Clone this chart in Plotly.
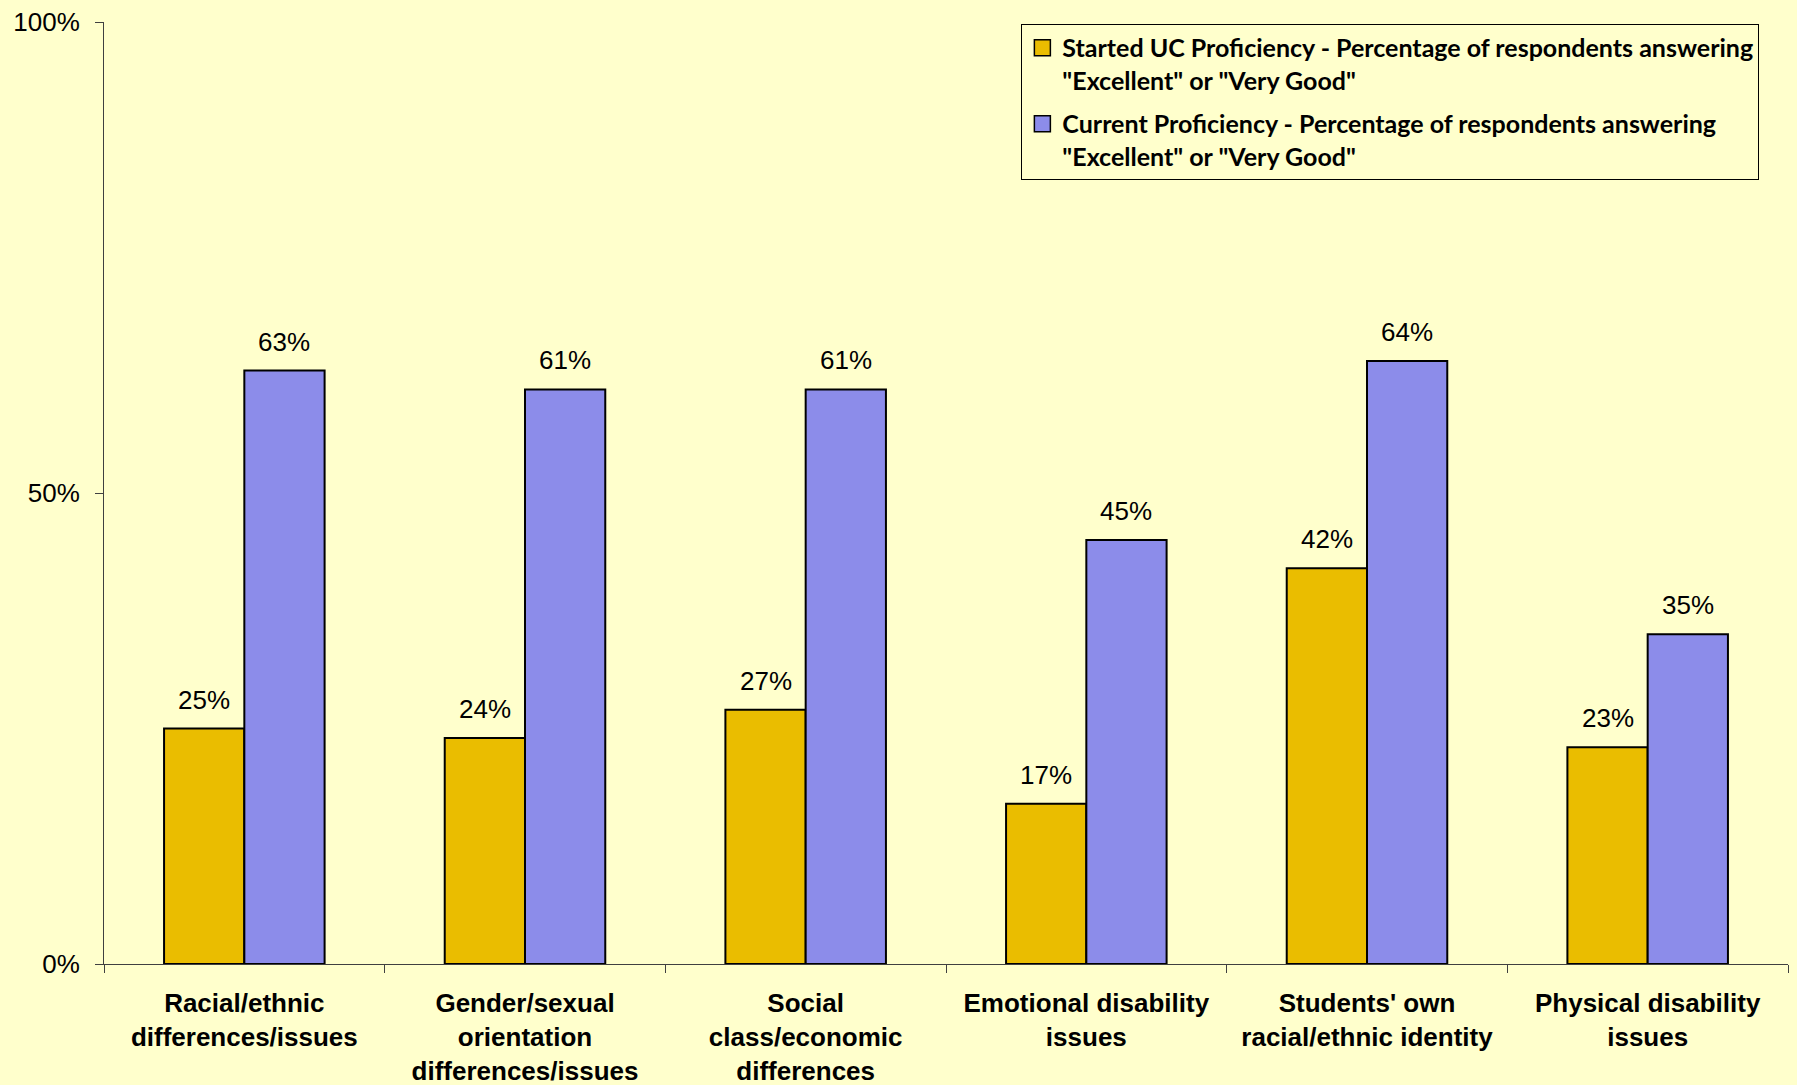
import plotly.graph_objects as go

categories = [
    "Racial/ethnic<br>differences/issues",
    "Gender/sexual<br>orientation<br>differences/issues",
    "Social<br>class/economic<br>differences",
    "Emotional disability<br>issues",
    "Students' own<br>racial/ethnic identity",
    "Physical disability<br>issues",
]
started_vals = [25, 24, 27, 17, 42, 23]
current_vals = [63, 61, 61, 45, 64, 35]
series_names = [
    'Started UC Proficiency - Percentage of respondents answering<br>"Excellent" or "Very Good"',
    'Current Proficiency - Percentage of respondents answering<br>"Excellent" or "Very Good"',
]
y_tick_vals = [0, 50, 100]
y_tick_text = ["0%", "50%", "100%"]

W, H = 1797, 1085
ML, MR, MT, MB = 104, 9, 22, 121
BARGAP = 0.428
BG = "#FFFFCC"
GOLD = "#EABD00"
BLUE = "#8C8CEA"
colors = [GOLD, BLUE]

fig = go.Figure()
for vals, col, name, grp in ((started_vals, GOLD, series_names[0], "a"),
                             (current_vals, BLUE, series_names[1], "b")):
    fig.add_trace(go.Bar(x=categories, y=vals, name=name, legendgroup=grp, showlegend=False,
                         marker=dict(color=col, line=dict(color="#000000", width=2))))
# legend entries with larger square swatches
for col, name, grp in ((GOLD, series_names[0], "a"), (BLUE, series_names[1], "b")):
    fig.add_trace(go.Scatter(x=[None], y=[None], mode="markers", name=name, legendgroup=grp,
                             marker=dict(symbol="square", size=16, color=col,
                                         line=dict(color="#000000", width=1.5))))

plot_w = W - ML - MR
bar_px = plot_w / len(categories) * (1 - BARGAP) / 2
annos = []
for cat, a, b in zip(categories, started_vals, current_vals):
    for v, sh in ((a, -bar_px / 2), (b, bar_px / 2)):
        annos.append(dict(x=cat, y=v, xref="x", yref="y", text=f"{v}%",
                          showarrow=False, xshift=sh, yshift=29, yanchor="middle",
                          font=dict(family="Liberation Sans, Arial", size=26, color="#000000")))

fig.update_layout(
    width=W, height=H,
    margin=dict(l=ML, r=MR, t=MT, b=MB, pad=0, autoexpand=False),
    paper_bgcolor=BG, plot_bgcolor=BG,
    barmode="group", bargap=BARGAP, bargroupgap=0,
    annotations=annos,
    showlegend=True,
    legend=dict(x=0.983, y=0.998, xanchor="right", yanchor="top",
                bgcolor=BG, bordercolor="#000000", borderwidth=1,
                valign="top", tracegroupgap=8, itemwidth=30,
                font=dict(family="Lato, Open Sans", size=25, color="#000000", weight="bold")),
    xaxis=dict(showline=True, linecolor="#404040", linewidth=1, automargin=False,
               ticks="outside", tickson="boundaries", ticklen=8, tickcolor="#404040",
               ticklabelstandoff=16,
               tickfont=dict(family="Liberation Sans, Arial", size=26, color="#000000", weight="bold"),
               range=[-0.5, 5.5], showgrid=False, zeroline=False),
    yaxis=dict(range=[0, 100], tickmode="array", tickvals=y_tick_vals, ticktext=y_tick_text,
               showline=True, linecolor="#404040", linewidth=1, automargin=False,
               ticks="outside", ticklen=8, tickcolor="#404040",
               ticklabelstandoff=10,
               tickfont=dict(family="Liberation Sans, Arial", size=26, color="#000000"),
               showgrid=False, zeroline=False),
)

fig.write_html("out.html", config={"displayModeBar": False},
               post_script="document.body.style.margin='0';document.body.style.overflow='hidden';")
